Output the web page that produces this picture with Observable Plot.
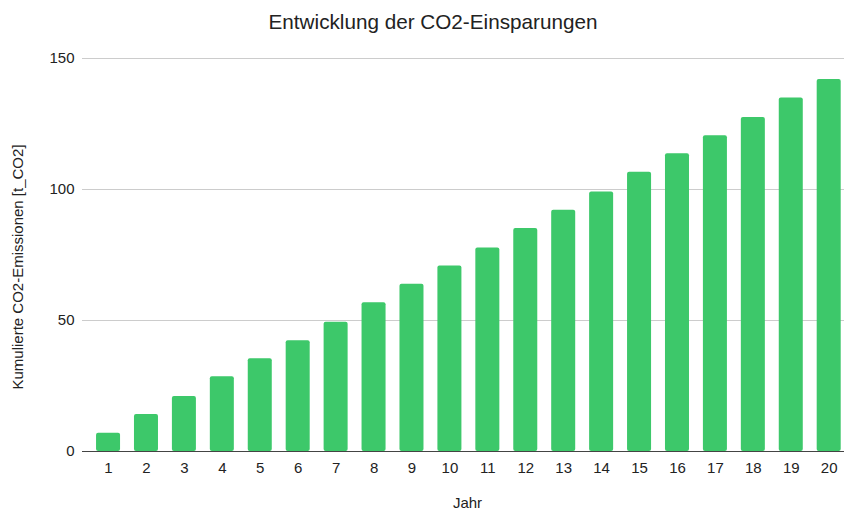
<!DOCTYPE html>
<html>
<head>
<meta charset="utf-8">
<script src="https://cdn.jsdelivr.net/npm/d3@7"></script>
<script src="https://cdn.jsdelivr.net/npm/@observablehq/plot@0.6"></script>
<style>
  body { margin: 0; background: #fff; font-family: "Liberation Sans", Arial, Helvetica, sans-serif; }
  #wrap { width: 844px; height: 511px; overflow: hidden; }
  #title { height: 40px; box-sizing: border-box; padding-top: 12px; line-height: 20px;
           font-size: 20.7px; color: #222; text-align: center; padding-left: 22px; }
</style>
</head>
<body>
<div id="wrap">
  <div id="title">Entwicklung der CO2-Einsparungen</div>
  <div id="chart"></div>
</div>
<script>
const years = [1,2,3,4,5,6,7,8,9,10,11,12,13,14,15,16,17,18,19,20];
const values = [7.0,14.1,21.0,28.5,35.4,42.3,49.3,56.8,63.8,70.8,77.7,85.1,92.1,99.0,106.6,113.6,120.5,127.5,134.9,142.0];
const yTicks = [0, 50, 100, 150];
const xLabel = "Jahr";
const yLabel = "Kumulierte CO2-Emissionen [t_CO2]";

const data = years.map((y, i) => ({year: y, value: values[i]}));

const chart = Plot.plot({
  width: 844,
  height: 471,
  marginTop: 18,
  marginBottom: 60,
  marginLeft: 82,
  marginRight: 0,
  style: {fontFamily: '"Liberation Sans", Arial, Helvetica, sans-serif', fontSize: "15px", color: "#222", background: "#fff"},
  x: {type: "band", domain: years, paddingInner: 0.367, paddingOuter: 0.2285, align: 0.81, round: false, label: null},
  y: {domain: [0, 150], label: null},
  marks: [
    Plot.gridY(yTicks, {stroke: "#cccccc", strokeOpacity: 1}),
    Plot.barY(data, {x: "year", y: "value", fill: "#3dc86a", rx: 2}),
    Plot.ruleY([0], {stroke: "#444", strokeWidth: 1}),
    Plot.axisY(yTicks, {tickSize: 0, tickPadding: 8, fontSize: 15, fill: "#222", label: null}),
    Plot.axisX({tickSize: 0, tickPadding: 11, fontSize: 15, fill: "#222", label: null}),
    Plot.text([xLabel], {text: d => d, frameAnchor: "bottom", textAnchor: "middle", lineAnchor: "middle", dx: 4, dy: 51.5, fontSize: 15, fill: "#222"}),
    Plot.text([yLabel], {text: d => d, frameAnchor: "left", textAnchor: "middle", lineAnchor: "middle", rotate: -90, dx: -64.5, dy: 12, fontSize: 15, fill: "#222"})
  ]
});
document.getElementById("chart").appendChild(chart);
</script>
</body>
</html>
